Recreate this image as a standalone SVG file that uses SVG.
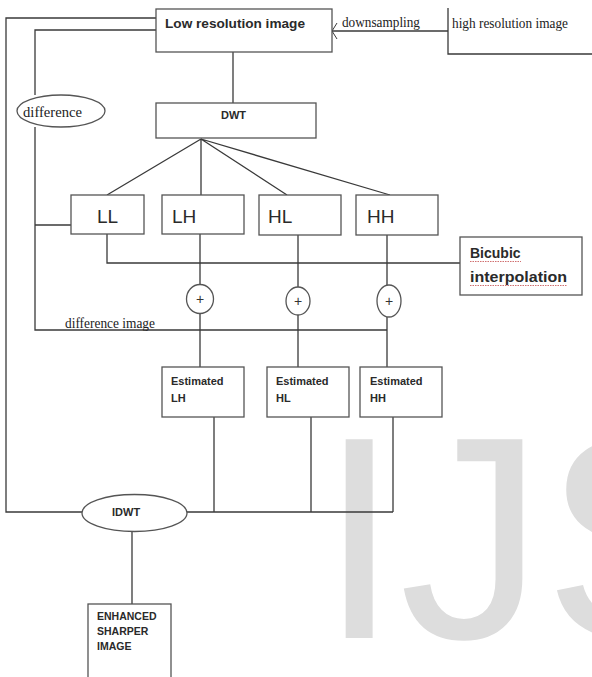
<svg xmlns="http://www.w3.org/2000/svg" width="592" height="677" viewBox="0 0 592 677">
  <style>
    .box { fill: #ffffff; stroke: #555555; stroke-width: 1.3; }
    .wire { fill: none; stroke: #3a3a3a; stroke-width: 1.3; }
    .lbl { font-family: "Liberation Sans", Arial, sans-serif; font-weight: bold; fill: #2a2a2a; }
    .band { font-family: "Liberation Sans", Arial, sans-serif; fill: #2a2a2a; font-size: 19px; }
    .note { font-family: "Liberation Serif", "Times New Roman", serif; fill: #222222; font-size: 15px; }
    .plus { font-family: "Liberation Sans", Arial, sans-serif; fill: #333333; font-size: 14px; }
    .spell { fill: none; stroke: #d07070; stroke-width: 1; stroke-dasharray: 1.5 1; }
    .mark { font-family: "Liberation Sans", Arial, sans-serif; fill: #dddddd; font-size: 289px; }
  </style>
  <defs>
    <marker id="chev" markerWidth="8" markerHeight="18" refX="6" refY="9" orient="auto" markerUnits="userSpaceOnUse">
      <path d="M1,1 L6,9 L1,17" fill="none" stroke="#3a3a3a" stroke-width="1"/>
    </marker>
  </defs>

  <rect width="592" height="677" fill="#ffffff"/>

  <!-- background watermark -->
  <text class="mark" x="319" y="638">IJS</text>

  <!-- connectors -->
  <g id="connectors">
    <!-- outer feedback loop: low resolution image to IDWT -->
    <path class="wire" d="M156,18 H6 V512 H82"/>
    <!-- difference path -->
    <path class="wire" d="M156,30 H35 V95"/>
    <path class="wire" d="M35,127 V330 H387"/>
    <path class="wire" d="M35,225 H71"/>
    <!-- downsampling arrow -->
    <path class="wire" d="M448,31 H332" marker-end="url(#chev)"/>
    <!-- low resolution to DWT -->
    <path class="wire" d="M233,52 V103"/>
    <!-- DWT fan-out -->
    <path class="wire" d="M201,139 L107,195 M201,139 V195 M201,139 L287,195 M201,139 L390,195"/>
    <!-- LL to bicubic interpolation -->
    <path class="wire" d="M107,234 V263 H460"/>
    <!-- LH column -->
    <path class="wire" d="M200,234 V285 M200,313 V367"/>
    <!-- HL column -->
    <path class="wire" d="M298,235 V287 M298,315 V367"/>
    <!-- HH column -->
    <path class="wire" d="M387,235 V285 M387,317 V367"/>
    <!-- estimated bands to IDWT -->
    <path class="wire" d="M214,417 V512 M311,417 V512 M393,417 V512 M187,512 H393"/>
    <!-- IDWT to output -->
    <path class="wire" d="M132,531 V604"/>
  </g>

  <g id="low-res">
    <rect class="box" x="156" y="9" width="176" height="43"/>
    <text class="lbl" x="165" y="28" font-size="12.5" textLength="140" lengthAdjust="spacingAndGlyphs">Low resolution image</text>
  </g>

  <g id="high-res">
    <path class="wire" d="M448,8 V54 H592"/>
    <text class="note" x="452" y="28" textLength="116" lengthAdjust="spacingAndGlyphs">high resolution image</text>
  </g>

  <g id="downsampling">
    <text class="note" x="342" y="27" textLength="78" lengthAdjust="spacingAndGlyphs">downsampling</text>
  </g>

  <g id="difference">
    <ellipse class="box" cx="61" cy="111" rx="44" ry="16"/>
    <text class="note" x="23" y="117" textLength="59" lengthAdjust="spacingAndGlyphs">difference</text>
  </g>

  <g id="dwt">
    <rect class="box" x="156" y="103" width="160" height="35"/>
    <text class="lbl" x="221" y="119" font-size="11">DWT</text>
  </g>

  <g id="ll">
    <rect class="box" x="71" y="195" width="73" height="39"/>
    <text class="band" x="97" y="223">LL</text>
  </g>
  <g id="lh">
    <rect class="box" x="162" y="195" width="82" height="39"/>
    <text class="band" x="172" y="223">LH</text>
  </g>
  <g id="hl">
    <rect class="box" x="259" y="195" width="82" height="40"/>
    <text class="band" x="268" y="223">HL</text>
  </g>
  <g id="hh">
    <rect class="box" x="356" y="195" width="82" height="40"/>
    <text class="band" x="367" y="223">HH</text>
  </g>

  <g id="bicubic">
    <rect class="box" x="460" y="237" width="122" height="58"/>
    <text class="lbl" x="470" y="258" font-size="14">Bicubic</text>
    <text class="lbl" x="470" y="282" font-size="14" textLength="97" lengthAdjust="spacingAndGlyphs">interpolation</text>
    <path class="spell" d="M470,261.5 H521"/>
    <path class="spell" d="M470,285.5 H567"/>
  </g>

  <g id="sum-lh">
    <ellipse class="box" cx="200" cy="299" rx="13.5" ry="14.5"/>
    <text class="plus" x="200" y="304" text-anchor="middle">+</text>
  </g>
  <g id="sum-hl">
    <ellipse class="box" cx="298" cy="301" rx="12" ry="14"/>
    <text class="plus" x="298" y="306" text-anchor="middle">+</text>
  </g>
  <g id="sum-hh">
    <ellipse class="box" cx="389" cy="301" rx="12" ry="16"/>
    <text class="plus" x="389" y="306" text-anchor="middle">+</text>
  </g>

  <g id="difference-image">
    <text class="note" x="65" y="328" textLength="90" lengthAdjust="spacingAndGlyphs">difference image</text>
  </g>

  <g id="est-lh">
    <rect class="box" x="162" y="367" width="82" height="50"/>
    <text class="lbl" x="171" y="385" font-size="11">Estimated</text>
    <text class="lbl" x="171" y="402" font-size="11">LH</text>
  </g>
  <g id="est-hl">
    <rect class="box" x="267" y="367" width="82" height="50"/>
    <text class="lbl" x="276" y="385" font-size="11">Estimated</text>
    <text class="lbl" x="276" y="402" font-size="11">HL</text>
  </g>
  <g id="est-hh">
    <rect class="box" x="360" y="367" width="82" height="50"/>
    <text class="lbl" x="370" y="385" font-size="11">Estimated</text>
    <text class="lbl" x="370" y="402" font-size="11">HH</text>
  </g>

  <g id="idwt">
    <ellipse class="box" cx="134.5" cy="513" rx="52.5" ry="18.5"/>
    <text class="lbl" x="112" y="516" font-size="11">IDWT</text>
  </g>

  <g id="output">
    <rect class="box" x="88" y="604" width="83" height="80"/>
    <text class="lbl" x="97" y="620" font-size="10.5">ENHANCED</text>
    <text class="lbl" x="97" y="635" font-size="10.5">SHARPER</text>
    <text class="lbl" x="97" y="650" font-size="10.5">IMAGE</text>
  </g>
</svg>
